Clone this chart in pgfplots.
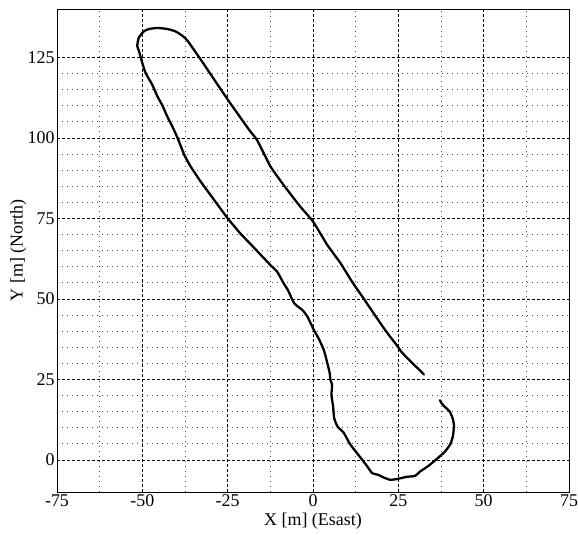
\documentclass[border=0pt]{standalone}
\usepackage{pgfplots}
\pgfplotsset{compat=1.18}
\usepackage{fontspec}
\setmainfont{Liberation Serif}
\begin{document}
\begin{tikzpicture}
\begin{axis}[
  name=main,
  scale only axis,
  width=512bp, height=483bp,
  xmin=-75, xmax=75, ymin=-10, ymax=140,
  xtick={-75,-50,...,75}, ytick={0,25,...,125},
  minor x tick num=1, minor y tick num=4,
  major tick length=0pt, minor tick length=0pt,
  grid=both,
  major grid style={black, line width=0.6pt, dash pattern=on 3bp off 2bp},
  minor grid style={black!70, line width=0.6pt, dash pattern=on 1bp off 4bp},
  axis line style={black, line width=0.9pt},
  /pgf/number format/assume math mode=true,
  tick label style={font=\fontsize{18}{20}\selectfont},
  label style={font=\fontsize{18}{20}\selectfont},
  xlabel={X [m] (Esast)}, ylabel={Y [m] (North)},
  xlabel style={at={(rel axis cs:0.5,0)}, anchor=north, yshift=-18bp},
  ylabel style={at={(rel axis cs:0,0.5)}, anchor=south, yshift=27bp},
  xticklabel style={yshift=1bp},
  yticklabel style={xshift=1bp},
  clip=true,
]
\addplot[black, line width=2.3pt, line join=round, line cap=round, smooth, tension=0.3] coordinates {
(32.5,26.5) (28.4,30.8) (26,33.4) (24.6,35.5) (21.2,40.2) (16.1,48.1) (14.9,50)
(11.5,55.2) (8.1,61) (4.2,66.7) (0,74) (-3.7,78.6) (-8.6,85.3) (-12.5,91.1)
(-13.2,92.6) (-16.4,99.3) (-18.8,102.6) (-25,111.9) (-32.9,124.3) (-36.8,130.2)
(-38.3,131.7) (-40.2,133) (-42.7,133.8) (-45.6,134.1) (-48,133.8) (-49.5,133.1)
(-51,131.2) (-51.5,128.6) (-51,127) (-50,123.2) (-49,120) (-47.1,116.5)
(-45.6,112.9) (-44.1,110) (-42.7,106.6) (-41.2,103.5) (-39.7,100) (-37.7,94.7)
(-35.8,91) (-32.9,86.4) (-30,82.2) (-27.1,78) (-25,75) (-21.3,70.3) (-17.4,66)
(-12.5,60.5) (-10.5,58.4) (-8.6,54.8) (-7.4,52.8) (-5.5,48.6) (-3.1,46.5)
(-1.6,44.4) (0.3,40.2) (1.7,37.6) (3.2,34) (4.2,30) (4.9,26.9) (5.1,24.8)
(5.6,23.2) (5.4,20.1) (5.9,16.5) (6.2,12.9) (7.2,10.3) (9,8.4) (10.9,4.8)
(13.9,0.7) (15.8,-1.9) (17.3,-4.1) (19.2,-4.7) (20.7,-5.5) (22.6,-6.2)
(24.5,-6) (27.4,-5.3) (29.9,-5) (31.3,-3.7) (33.8,-1.9) (36.2,0.2) (38.6,2.5)
(40.2,4.8) (41,7.4) (41.3,10.5) (41,12.6) (40.1,14.9) (38.6,16.5) (37.7,17.5)
(37.2,18.5)
};
\end{axis}
\pgfresetboundingbox
\useasboundingbox ([shift={(-57bp,-42bp)}]main.south west) rectangle ([shift={(9bp,9bp)}]main.north east);
\end{tikzpicture}
\end{document}
